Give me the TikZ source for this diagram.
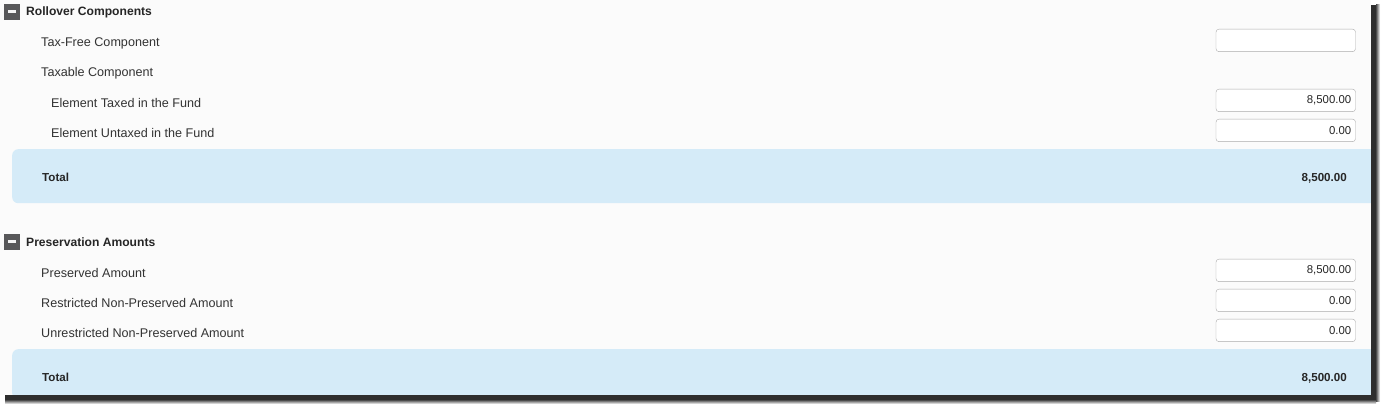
\documentclass[tikz,border=0pt]{standalone}
\usepackage{fontspec}
\setmainfont{Liberation Sans}
\definecolor{panelbg}{HTML}{FBFBFB}
\definecolor{totalbg}{HTML}{D5EBF8}
\definecolor{iconbg}{HTML}{58585A}
\definecolor{boxline}{HTML}{ABABAB}
\definecolor{labeltext}{HTML}{333333}
\tikzset{
  rowlabel/.style={anchor=base west,inner sep=0pt,text=labeltext,font=\fontsize{12.6}{14}\selectfont},
  headlabel/.style={rowlabel,text=black!85,font=\fontsize{12.1}{14}\selectfont\bfseries},
  totallabel/.style={headlabel,font=\fontsize{11.6}{14}\selectfont\bfseries},
  field/.style={draw=boxline,fill=white,rounded corners=3pt,minimum width=139.5pt,minimum height=22.5pt,
    text width=131pt,align=right,inner xsep=4pt,inner ysep=0pt,text=black!85,font=\fontsize{11.4}{13}\selectfont},
  totalband/.style={fill=totalbg,rounded corners=6pt,anchor=north west,minimum width=1364pt,inner sep=0pt},
  minusicon/.style={fill=iconbg,minimum size=15.5pt,inner sep=0pt,
    path picture={\fill[white!92!gray] ([xshift=-4.3pt,yshift=-1.6pt]path picture bounding box.center)
      rectangle ([xshift=4.3pt,yshift=1.6pt]path picture bounding box.center);}}
}
\begin{document}
\begin{tikzpicture}[x=1pt,y=-1pt]
  \useasboundingbox (0,0) rectangle (1381,404);
  \fill[white] (0,0) rectangle (1381,404);
  \fill[panelbg] (0,0) rectangle (1371,395);

  % rollover components
  \node[minusicon] (rollicon) at (12,11.8) {};
  \node[headlabel] (rollhead) at (26,16) {Rollover Components};
  \node[rowlabel] (taxfree) at (41,47) {Tax-Free Component};
  \node[rowlabel] (taxable) at (41,77) {Taxable Component};
  \node[rowlabel] (taxed) at (51,107) {Element Taxed in the Fund};
  \node[rowlabel] (untaxed) at (51,137) {Element Untaxed in the Fund};
  \node[field] (taxfreebox) at (1285.75,40.4) {};
  \node[field] (taxedbox) at (1285.75,100.4) {8,500.00};
  \node[field] (untaxedbox) at (1285.75,130.4) {0.00};
  \node[totalband,minimum height=54pt] (rollband) at (12,149) {};
  \node[totallabel] (rolltotal) at (42,181) {Total};
  \node[totallabel,anchor=base east] (rollsum) at (1347,181) {8,500.00};

  % preservation amounts
  \node[minusicon] (presicon) at (12,241.8) {};
  \node[headlabel] (preshead) at (26,246) {Preservation Amounts};
  \node[rowlabel] (preserved) at (41,277) {Preserved Amount};
  \node[rowlabel] (restricted) at (41,307) {Restricted Non-Preserved Amount};
  \node[rowlabel] (unrestricted) at (41,337) {Unrestricted Non-Preserved Amount};
  \node[field] (preservedbox) at (1285.75,270.4) {8,500.00};
  \node[field] (restrictedbox) at (1285.75,300.4) {0.00};
  \node[field] (unrestrictedbox) at (1285.75,330.4) {0.00};
  \node[totalband,minimum height=50pt] (presband) at (12,349) {};
  \node[totallabel] (prestotal) at (42,381) {Total};
  \node[totallabel,anchor=base east] (pressum) at (1347,381) {8,500.00};

  % shadow
  \fill[black!82] (1371,5) rectangle (1376,400);
  \shade[left color=black!70,right color=white] (1376,5) rectangle (1380,401);
  \fill[black!82] (5,395) rectangle (1376,400);
  \shade[top color=black!70,bottom color=white] (5,400) rectangle (1376,404);
\end{tikzpicture}
\end{document}
